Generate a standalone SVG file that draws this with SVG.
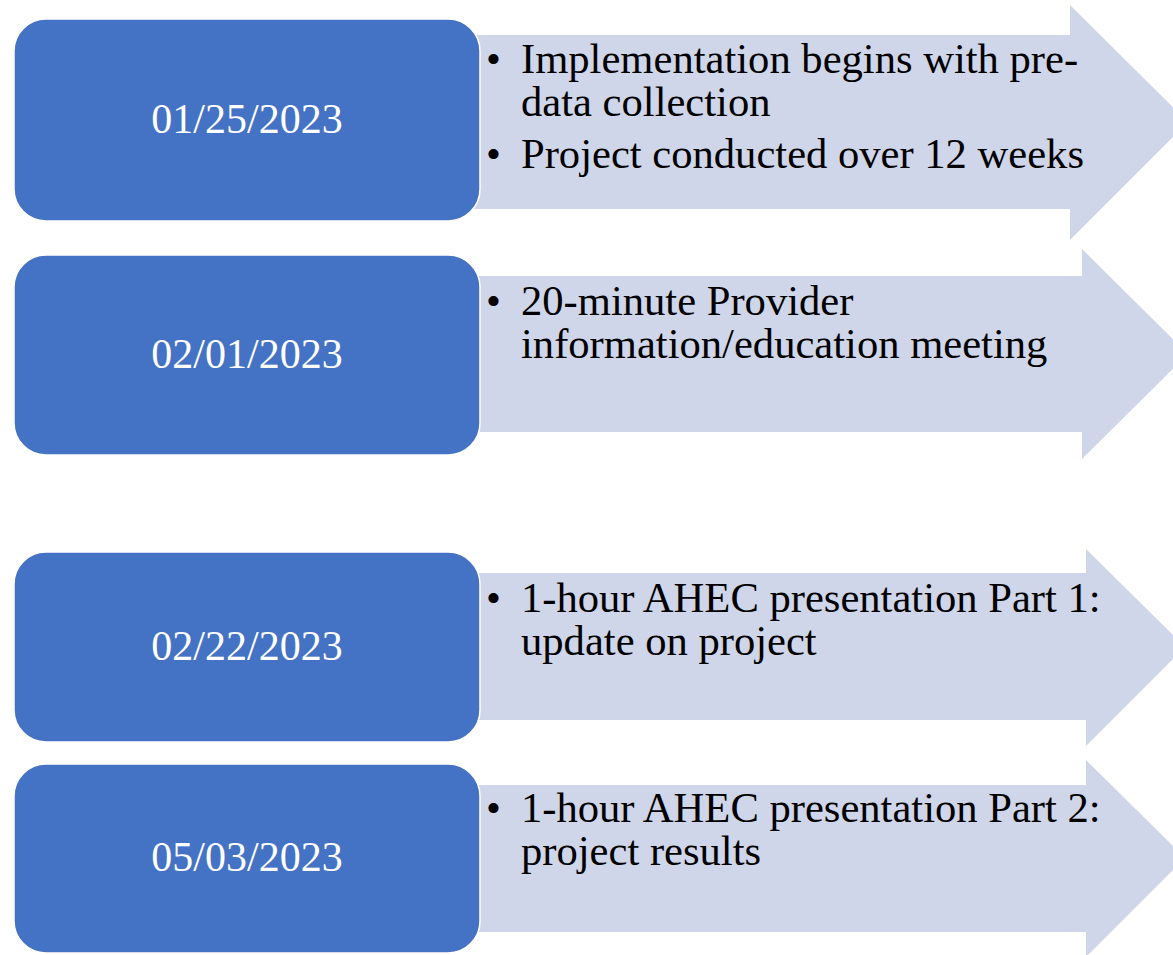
<svg xmlns="http://www.w3.org/2000/svg" width="1173" height="955" viewBox="0 0 1173 955">
  <style>
    .arrow { fill: #CFD6EA; }
    .box { fill: #4472C4; stroke: #FFFFFF; stroke-width: 1.5; }
    .date { font-family: "Liberation Serif", "Times New Roman", serif; font-size: 42px; fill: #FFFFFF; text-anchor: middle; }
    .item { font-family: "Liberation Serif", "Times New Roman", serif; font-size: 42.6px; fill: #000000; }
  </style>

  <!-- Step 1 -->
  <g id="step1">
    <polygon class="arrow" points="470,35 1070,35 1070,5 1188,122 1070,240 1070,209 470,209"/>
    <rect class="box" x="14" y="19" width="466" height="202" rx="32" ry="32"/>
    <text class="date" x="247" y="133">01/25/2023</text>
    <text class="item" x="486" y="73">•</text>
    <text class="item" x="521" y="73">Implementation begins with pre-</text>
    <text class="item" x="521" y="116">data collection</text>
    <text class="item" x="486" y="168">•</text>
    <text class="item" x="521" y="168">Project conducted over 12 weeks</text>
  </g>

  <!-- Step 2 -->
  <g id="step2">
    <polygon class="arrow" points="470,276 1082,276 1082,249 1188,354 1082,459 1082,432 470,432"/>
    <rect class="box" x="14" y="255" width="466" height="200" rx="32" ry="32"/>
    <text class="date" x="247" y="368">02/01/2023</text>
    <text class="item" x="486" y="315">•</text>
    <text class="item" x="521" y="315">20-minute Provider</text>
    <text class="item" x="521" y="358">information/education meeting</text>
  </g>

  <!-- Step 3 -->
  <g id="step3">
    <polygon class="arrow" points="470,573 1086,573 1086,549 1185,647 1086,746 1086,720 470,720"/>
    <rect class="box" x="14" y="552" width="466" height="190" rx="32" ry="32"/>
    <text class="date" x="247" y="660">02/22/2023</text>
    <text class="item" x="486" y="612">•</text>
    <text class="item" x="521" y="612">1-hour AHEC presentation Part 1:</text>
    <text class="item" x="521" y="655">update on project</text>
  </g>

  <!-- Step 4 -->
  <g id="step4">
    <polygon class="arrow" points="470,785 1086,785 1086,760 1185,858 1086,957 1086,932 470,932"/>
    <rect class="box" x="14" y="764" width="466" height="189" rx="32" ry="32"/>
    <text class="date" x="247" y="871">05/03/2023</text>
    <text class="item" x="486" y="822">•</text>
    <text class="item" x="521" y="822">1-hour AHEC presentation Part 2:</text>
    <text class="item" x="521" y="865">project results</text>
  </g>

  <!-- no separate connectors: the block arrows belong to each step -->
  <g id="connectors"/>
</svg>
